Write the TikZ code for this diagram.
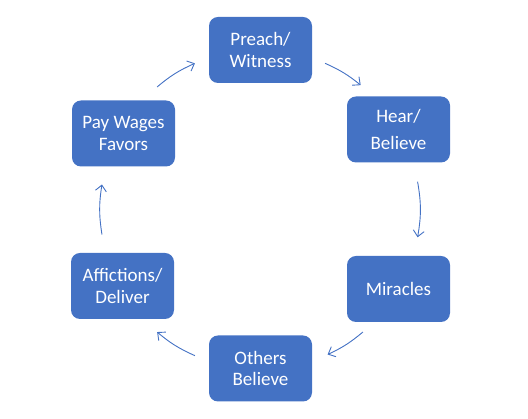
\documentclass[tikz,border=0pt]{standalone}
\usepackage{fontspec}
\setmainfont{Carlito}
\usetikzlibrary{arrows.meta,calc}
\definecolor{nodeblue}{HTML}{4472C4}
\begin{document}
\begin{tikzpicture}[x=1pt,y=1pt,
  box/.style={fill=nodeblue, rounded corners=9pt, minimum width=103pt, minimum height=66pt,
    text=white, font=\fontsize{19}{21.5}\selectfont, align=center, inner sep=0pt},
  cyc/.style={draw=nodeblue, line width=0.9pt, -{Straight Barb[length=6pt,width=11pt]}}]
\useasboundingbox (0,0) rectangle (528,419);
\coordinate (c) at (260,209.5);
\node[box] (preach) at (260.5,369) {Preach/\\Witness};
\node[box, font=\fontsize{19}{27}\selectfont] (hear) at (398.5,289.5) {Hear/\\Believe};
\node[box] (mir) at (398.5,130) {Miracles};
\node[box] (others) at (260.5,50.5) {Others\\Believe};
\node[box] (aff) at (122.5,133) {Affictions/\\Deliver};
\node[box] (pay) at (123.5,285.5) {Pay Wages\\Favors};
\coordinate (a1s) at ($(c)+(66:160)$);
\coordinate (a1e) at ($(c)+(51:160)$);
\coordinate (a2s) at ($(c)+(10:160)$);
\coordinate (a2e) at ($(c)+(-10:160)$);
\coordinate (a3s) at ($(c)+(-50:160)$);
\coordinate (a3e) at ($(c)+(-65:160)$);
\coordinate (a4s) at ($(c)+(-114:160)$);
\coordinate (a4e) at ($(c)+(-130:160)$);
\coordinate (a5s) at ($(c)+(-171:160)$);
\coordinate (a5e) at ($(c)+(-189:160)$);
\coordinate (a6s) at ($(c)+(130:160)$);
\coordinate (a6e) at ($(c)+(114:160)$);
\draw[cyc] (a1s) to[bend left=7.5] (a1e);
\draw[cyc] (a2s) to[bend left=10] (a2e);
\draw[cyc] (a3s) to[bend left=7.5] (a3e);
\draw[cyc] (a4s) to[bend left=8] (a4e);
\draw[cyc] (a5s) to[bend left=9] (a5e);
\draw[cyc] (a6s) to[bend left=8] (a6e);
\end{tikzpicture}
\end{document}
